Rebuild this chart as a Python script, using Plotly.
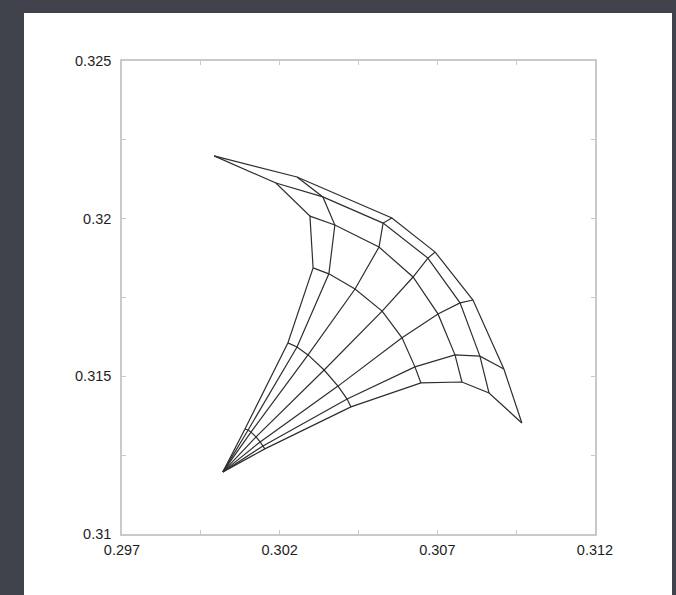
import plotly.graph_objects as go

# Mesh nodes: each row is one ring (row 0 is the shared apex, row 6 the outer edge),
# each column is one spoke running from the apex out to the outer edge.
grid_x = [
    [0.30020, 0.30020, 0.30020, 0.30020, 0.30020, 0.30020, 0.30020],
    [0.30090, 0.30100, 0.30109, 0.30125, 0.30138, 0.30147, 0.30153],
    [0.30226, 0.30255, 0.30290, 0.30341, 0.30385, 0.30414, 0.30426],
    [0.30306, 0.30356, 0.30439, 0.30525, 0.30588, 0.30629, 0.30648],
    [0.30296, 0.30375, 0.30515, 0.30623, 0.30702, 0.30756, 0.30778],
    [0.30188, 0.30337, 0.30528, 0.30670, 0.30772, 0.30835, 0.30864],
    [0.29992, 0.30255, 0.30556, 0.30693, 0.30813, 0.30911, 0.30968],
]
grid_y = [
    [0.31197, 0.31197, 0.31197, 0.31197, 0.31197, 0.31197, 0.31197],
    [0.31333, 0.31330, 0.31323, 0.31308, 0.31292, 0.31279, 0.31270],
    [0.31606, 0.31593, 0.31568, 0.31520, 0.31469, 0.31428, 0.31403],
    [0.31844, 0.31825, 0.31777, 0.31707, 0.31622, 0.31530, 0.31479],
    [0.32008, 0.31980, 0.31910, 0.31815, 0.31698, 0.31568, 0.31482],
    [0.32113, 0.32069, 0.31986, 0.31875, 0.31733, 0.31564, 0.31447],
    [0.32199, 0.32132, 0.32002, 0.31894, 0.31742, 0.31523, 0.31352],
]

x_ticks = [0.297, 0.302, 0.307, 0.312]
x_tick_text = ["0.297", "0.302", "0.307", "0.312"]
x_minor = [0.2995, 0.3045, 0.3095]
y_ticks = [0.310, 0.315, 0.320, 0.325]
y_tick_text = ["0.31", "0.315", "0.32", "0.325"]
y_minor = [0.3125, 0.3175, 0.3225]

# Flatten rings and spokes into single polylines separated by gaps
lx, ly = [], []
n_rings = len(grid_x)
n_spokes = len(grid_x[0])
for i in range(1, n_rings):
    lx += grid_x[i] + [None]
    ly += grid_y[i] + [None]
for j in range(n_spokes):
    lx += [grid_x[i][j] for i in range(n_rings)] + [None]
    ly += [grid_y[i][j] for i in range(n_rings)] + [None]

fig = go.Figure()
fig.add_trace(go.Scatter(
    x=lx, y=ly, mode="lines",
    line=dict(color="#2e2e2e", width=1.2),
    hoverinfo="skip", showlegend=False,
))

W, H = 676, 595
L, R, T, B = 122, 81, 61, 61
pw, ph = W - L - R, H - T - B

def px_to_paper_x(px):
    return (px - L) / pw

def py_to_paper_y(py):
    return (H - B - py) / ph

# White card behind the chart
fig.add_shape(
    type="rect", xref="paper", yref="paper", layer="below",
    x0=px_to_paper_x(24), x1=px_to_paper_x(672),
    y0=py_to_paper_y(600), y1=py_to_paper_y(13),
    fillcolor="white", line=dict(width=0),
)

axis_common = dict(
    showgrid=False, zeroline=False,
    showline=True, linecolor="#c9c9c9", linewidth=1.5, mirror="allticks",
    ticks="inside", ticklen=4, tickcolor="#c9c9c9", tickwidth=1,
    tickfont=dict(family="Liberation Sans, Arial, sans-serif", size=14.5, color="#1e1e1e"),
)

fig.update_xaxes(
    range=[0.297, 0.312], tickmode="array", tickvals=x_ticks, ticktext=x_tick_text,
    minor=dict(tickmode="array", tickvals=x_minor, ticks="inside", ticklen=4,
               tickcolor="#c9c9c9", tickwidth=1),
    ticklabelstandoff=2,
    **axis_common,
)
fig.update_yaxes(
    range=[0.310, 0.325], tickmode="array", tickvals=y_ticks, ticktext=y_tick_text,
    minor=dict(tickmode="array", tickvals=y_minor, ticks="inside", ticklen=4,
               tickcolor="#c9c9c9", tickwidth=1),
    ticklabelstandoff=6,
    **axis_common,
)

fig.update_layout(
    width=W, height=H,
    margin=dict(l=L, r=R, t=T, b=B),
    paper_bgcolor="#40434b",
    plot_bgcolor="white",
)

fig.write_html("out.html")
